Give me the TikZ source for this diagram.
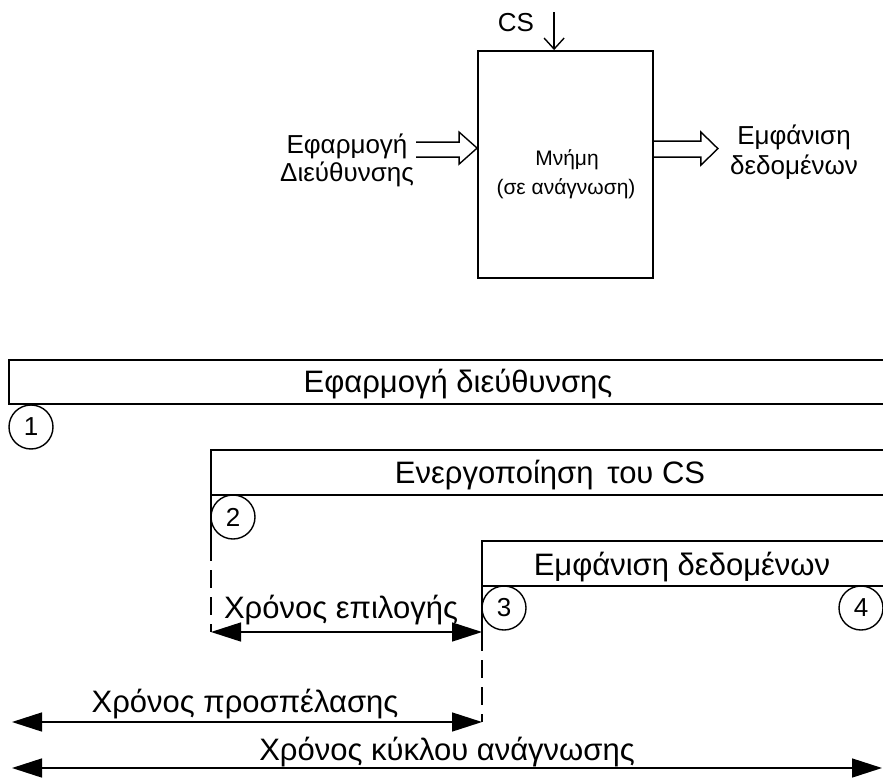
\documentclass[tikz,border=0pt]{standalone}
\usepackage{fontspec}
\setmainfont{Liberation Sans}
\usetikzlibrary{arrows.meta,calc}

\begin{document}
\begin{tikzpicture}[x=1pt,y=-1pt,
  line width=1.6pt,
  bigfont/.style={font=\fontsize{31}{36}\selectfont, inner sep=0pt},
  topfont/.style={font=\fontsize{26}{30}\selectfont, inner sep=0pt},
  memfont/.style={font=\fontsize{21}{25}\selectfont, inner sep=0pt},
  num/.style={circle, draw, line width=1.4pt, minimum size=44pt, inner sep=0pt,
              font=\fontsize{26}{26}\selectfont},
  bar/.style={line width=1.8pt},
  guide/.style={line width=1.5pt, dash pattern=on 18pt off 9pt},
  span/.style={{Triangle[length=30pt,width=19pt]}-{Triangle[length=30pt,width=19pt]},
               line width=1.5pt},
  hollow/.style={line width=1.4pt, line join=miter}
]
\useasboundingbox (0,0) rectangle (883,778);

% ---- memory block with its signals ----
\node[draw, line width=1.8pt, minimum width=175pt, minimum height=227pt, inner sep=0pt]
  (mem) at (565.5,164.5) {};
\node[memfont, anchor=base] (memA) at (567,166) {Μνήμη};
\node[memfont, anchor=base] (memB) at (566,194) {(σε ανάγνωση)};

\node[topfont, anchor=base] (inA) at (347,154) {Εφαρμογή};
\node[topfont, anchor=base] (inB) at (347,182) {Διεύθυνσης};
\node[topfont, anchor=base] (outA) at (794,145) {Εμφάνιση};
\node[topfont, anchor=base] (outB) at (794,175) {δεδομένων};
\node[topfont, anchor=base] (cs) at (516,32) {CS};

% chip select line
\coordinate (csin) at ($(mem.north west)+(77,-38)$);
\draw[line width=1.4pt, -{Straight Barb[length=11pt,width=20pt]}] (csin) -- (csin |- mem.north);

% address bus into the block
\coordinate (inTip) at ($(mem.north west)+(0,98)$);
\draw[hollow] ($(inTip)+(-61,-6)$) -- ++(43,0) -- ++(0,-10) -- (inTip)
  -- ++(-18,16) -- ++(0,-7) -- ++(-43,0);

% data bus out of the block
\coordinate (outBase) at ($(mem.north east)+(0,91)$);
\draw[hollow] (outBase) -- ++(47,0) -- ++(0,-9) -- ++(17,16.5) -- ++(-17,16.5)
  -- ++(0,-8) -- ++(-47,0);

% ---- timing bars ----
\draw[bar] (883,360) -| (9,404) -- (883,404);
\node[bigfont, anchor=base] (b1) at (458,392) {Εφαρμογή διεύθυνσης};
\node[num] (n1) at (31,427) {1};

\draw[bar] (883,450) -| (211,543);
\draw[bar] (211,495) -- (883,495);
\node[bigfont, anchor=base] (b2) at (550,483) {Ενεργοποίηση\hspace{0.45em}του CS};
\node[num] (n2) at (233,517) {2};

\draw[bar] (883,541) -| (482,633);
\draw[bar] (482,586) -- (883,586);
\node[bigfont, anchor=base] (b3) at (682,575) {Εμφάνιση δεδομένων};
\node[num] (n3) at (504,608) {3};
\node[num] (n4) at (861,608) {4};

% end points of the interval arrows
\coordinate (selL) at (211,632);
\coordinate (selR) at (482,632);
\coordinate (accL) at (12,722);
\coordinate (accR) at (482,722);
\coordinate (cycL) at (12,768);
\coordinate (cycR) at (882,768);

% dashed guides down to the interval arrows
\draw[guide] (211,543) -- (selL);
\draw[guide] (482,633) -- (accR);

% ---- time intervals ----
\draw[span] (selL) -- (selR);
\node[bigfont, anchor=base] (selT) at (341,618) {Χρόνος επιλογής};

\draw[span] (accL) -- (accR);
\node[bigfont, anchor=base] (accT) at (245,712) {Χρόνος προσπέλασης};

\draw[span] (cycL) -- (cycR);
\node[bigfont, anchor=base] (cycT) at (447,760) {Χρόνος κύκλου ανάγνωσης};
\end{tikzpicture}
\end{document}
